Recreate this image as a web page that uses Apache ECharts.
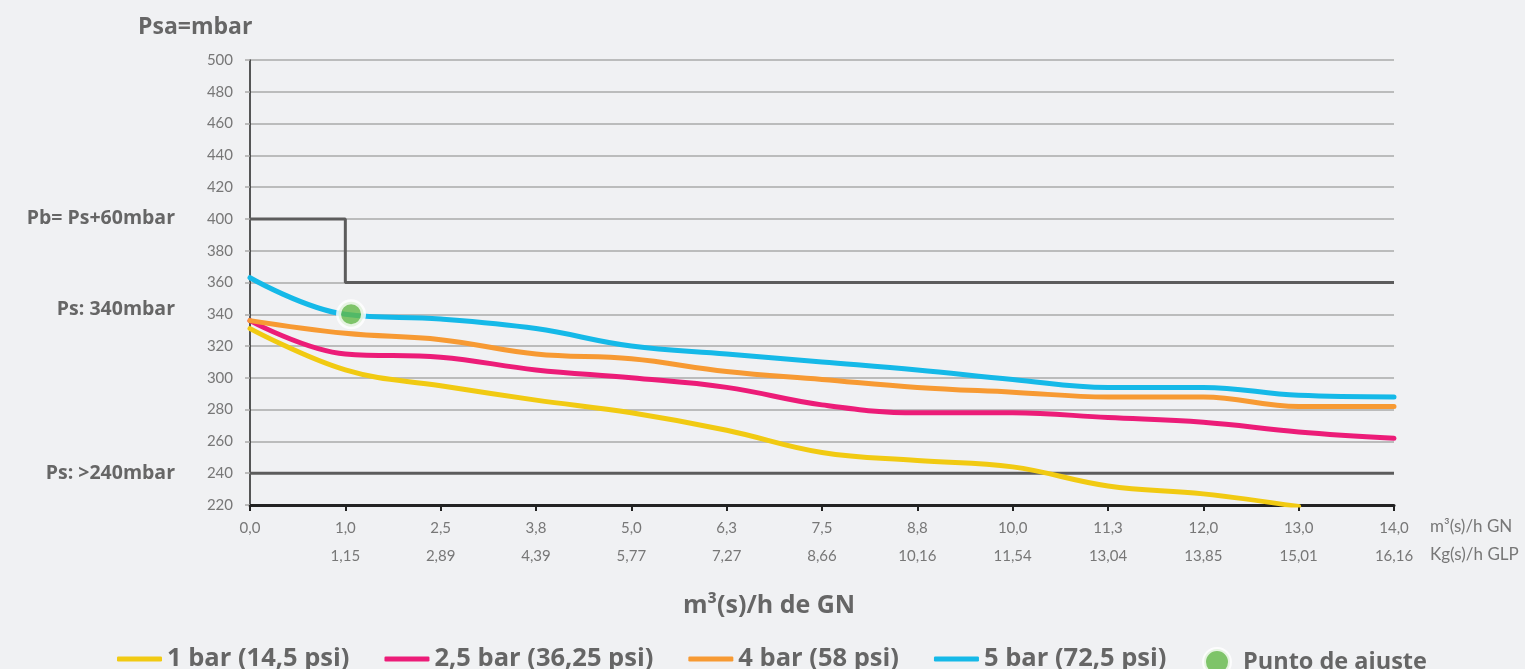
<!DOCTYPE html>
<html>
<head>
<meta charset="utf-8">
<script src="https://cdn.jsdelivr.net/npm/echarts@6/dist/echarts.min.js"></script>
<style>
html,body{margin:0;padding:0;background:#f0f1f3;}
#c{width:1525px;height:669px;}
</style>
</head>
<body>
<div id="c"></div>
<script>
// ---- data ----
const gnLabels  = ['0,0','1,0','2,5','3,8','5,0','6,3','7,5','8,8','10,0','11,3','12,0','13,0','14,0'];
const glpLabels = ['','1,15','2,89','4,39','5,77','7,27','8,66','10,16','11,54','13,04','13,85','15,01','16,16'];
const bar1  = [331,305,295,286,278,267,253,248,244,232,227,219];
const bar25 = [336,315,313,305,300,294,283,278,278,275,272,266,262];
const bar4  = [336,328,324,315,312,304,299,294,291,288,288,282,282];
const bar5  = [363,340,337,331,320,315,310,305,299,294,294,289,288];
const stepX = [0,1,1,12];
const stepY = [400,400,360,360];
const minLimitX = [0,12];
const minLimitY = [240,240];
const ajusteX = [1.06];
const ajusteY = [340];
const sideLabels = {400:'Pb= Ps+60mbar',340:'Ps: 340mbar',240:'Ps: >240mbar'};
const seriesNames = ['1 bar (14,5 psi)','2,5 bar (36,25 psi)','4 bar (58 psi)','5 bar (72,5 psi)','Punto de ajuste'];

const colors = {y:'#f1ca12', p:'#ec1c78', o:'#f79a33', b:'#15b9e8', g:'#62b946', dark:'#5c5c5c'};
const toPairs = arr => arr.map((v,i)=>[i,v]);
const zipPairs = (xs,ys) => xs.map((x,i)=>[x,ys[i]]);
const FONT = 'Lato';
const BFONT = 'Open Sans';

function curve(name, data, color){
  return {name, type:'line', data:toPairs(data), smooth:0.4, symbol:'none', z:5,
    lineStyle:{color, width:5, cap:'round'}, itemStyle:{color}};
}

const chart = echarts.init(document.getElementById('c'));
chart.setOption({
  backgroundColor:'#f0f1f3',
  animation:false,
  textStyle:{fontFamily:FONT},
  title:[
    {text:'Psa=mbar', left:133, top:11, textStyle:{fontFamily:BFONT, fontSize:23, fontWeight:'bold', color:'#666'}},
    {text:'m³(s)/h de GN', left:678, top:588, textStyle:{fontFamily:BFONT, fontSize:25, fontWeight:'bold', color:'#666'}}
  ],
  grid:{left:250, right:131, top:60, bottom:164},
  legend:[
    {data:seriesNames.slice(0,4), left:112, top:641, icon:'roundRect', itemWidth:45, itemHeight:5, itemGap:35,
     textStyle:{fontFamily:BFONT, fontSize:25.5, fontWeight:'bold', color:'#666'}},
    {data:[seriesNames[4]], left:1197, top:642, icon:'circle', itemWidth:26, itemHeight:26,
     itemStyle:{borderColor:'#fff', borderWidth:4},
     textStyle:{fontFamily:BFONT, fontSize:23.5, fontWeight:'bold', color:'#666', padding:[0,0,0,8]}}
  ],
  xAxis:{
    type:'value', min:0, max:12, interval:1,
    name:'m³(s)/h GN\nKg(s)/h GLP', nameLocation:'end', nameGap:36,
    nameTextStyle:{fontFamily:FONT, fontSize:17, color:'#777', align:'left', verticalAlign:'top', lineHeight:28, padding:[8,0,0,0]},
    axisLine:{show:true, lineStyle:{color:'#222', width:3}},
    axisTick:{show:true, length:6, lineStyle:{color:'#222', width:2}},
    splitLine:{show:false},
    axisLabel:{showMinLabel:true, showMaxLabel:true, margin:9, lineHeight:28, fontSize:15, color:'#777', fontFamily:FONT,
      formatter:v=>gnLabels[v]+'\n'+glpLabels[v]}
  },
  yAxis:[
    {type:'value', min:220, max:500, interval:20,
     axisLine:{show:true, lineStyle:{color:'#222', width:1.5}},
     axisTick:{show:true, length:5, lineStyle:{color:'#aaa', width:1.5}},
     splitLine:{show:true, lineStyle:{color:'#aaa', width:1.5}},
     axisLabel:{margin:17, fontSize:15, color:'#777', fontFamily:FONT}},
    {type:'value', min:220, max:500, interval:20, position:'left', offset:75,
     axisLine:{show:false}, axisTick:{show:false}, splitLine:{show:false},
     axisLabel:{margin:0, fontSize:19.5, fontWeight:'bold', color:'#666', fontFamily:BFONT,
       formatter:v=>sideLabels[v] ? (v===340 ? '{u|'+sideLabels[v]+'}' : sideLabels[v]) : '',
       rich:{u:{fontSize:19.5, fontWeight:'bold', color:'#666', fontFamily:BFONT, padding:[0,0,10,0]}}}}
  ],
  series:[
    {type:'line', data:zipPairs(stepX,stepY), symbol:'none', z:3, silent:true,
     lineStyle:{color:colors.dark, width:3}},
    {type:'line', data:zipPairs(minLimitX,minLimitY), symbol:'none', z:3, silent:true,
     lineStyle:{color:colors.dark, width:3}},
    curve(seriesNames[0], bar1, colors.y),
    curve(seriesNames[1], bar25, colors.p),
    curve(seriesNames[2], bar4, colors.o),
    curve(seriesNames[3], bar5, colors.b),
    {name:seriesNames[4], type:'scatter', data:zipPairs(ajusteX,ajusteY), symbolSize:25, z:10,
     itemStyle:{color:colors.g, borderColor:'#fff', borderWidth:5}}
  ]
});
</script>
</body>
</html>
